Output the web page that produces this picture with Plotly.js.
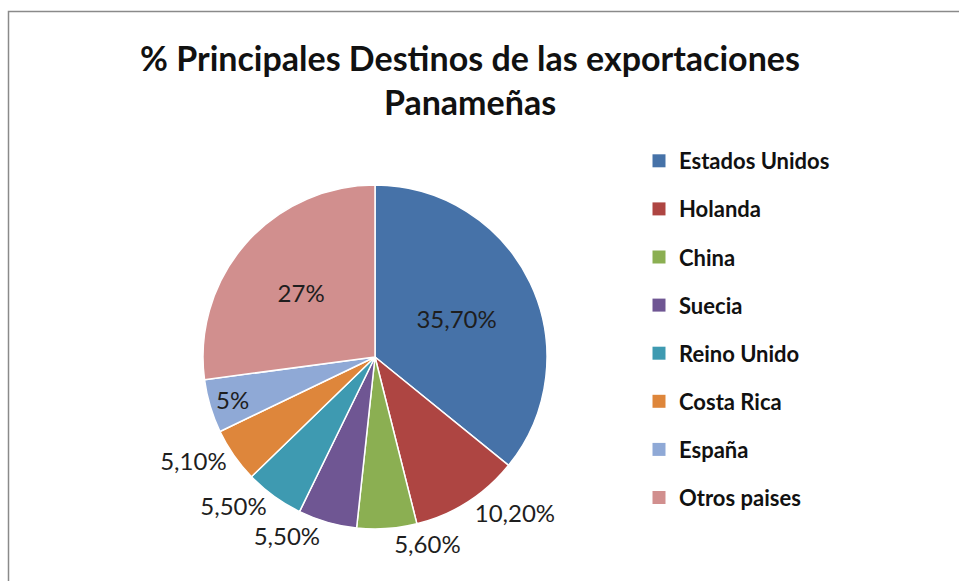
<!DOCTYPE html>
<html>
<head>
<meta charset="utf-8">
<script src="https://cdn.plot.ly/plotly-3.0.1.min.js"></script>
<style>
  html, body { margin: 0; padding: 0; background: #ffffff; }
  #chart { width: 959px; height: 581px; }
</style>
</head>
<body>
<div id="chart"></div>
<script>
// ---- data ----
const categories = ["Estados Unidos", "Holanda", "China", "Suecia", "Reino Unido", "Costa Rica", "España", "Otros paises"];
const shares = [35.7, 10.2, 5.6, 5.5, 5.5, 5.1, 5, 27];
const shareLabels = ["35,70%", "10,20%", "5,60%", "5,50%", "5,50%", "5,10%", "5%", "27%"];
const labelPlacement = ["inside", "outside", "outside", "outside", "outside", "outside", "inside", "inside"];
const sliceColors = ["#4672A8", "#AE4542", "#8BAF52", "#6F5693", "#3E9AB1", "#DE863B", "#8FA9D6", "#D18F8E"];

const W = 959, H = 581;
const fontFam = "Lato, 'Open Sans', sans-serif";

const pie = {
  type: "pie",
  labels: categories,
  values: shares,
  text: shareLabels,
  textinfo: "text",
  textposition: labelPlacement,
  insidetextorientation: "horizontal",
  sort: false,
  direction: "clockwise",
  rotation: 0,
  marker: { colors: sliceColors, line: { color: "#ffffff", width: 1.5 } },
  textfont: { family: fontFam, size: 24, color: "#1e1e1e" },
  outsidetextfont: { family: fontFam, size: 24, color: "#1e1e1e" },
  insidetextfont: { family: fontFam, size: 24, color: "#1e1e1e" },
  showlegend: false,
  hoverinfo: "label+text",
  domain: { x: [(375 - 172) / W, (375 + 172) / W], y: [(H - 529) / H, (H - 185) / H] }
};

// legend entries, one per category, so rows can be spaced like the original
const legendTraces = categories.map((c, i) => ({
  type: "scatter",
  mode: "markers",
  x: [null], y: [null],
  name: c,
  legendgroup: c,
  marker: { symbol: "square", size: 13, color: sliceColors[i] },
  hoverinfo: "skip"
}));

const layout = {
  width: W, height: H,
  margin: { l: 0, r: 0, t: 0, b: 0 },
  paper_bgcolor: "#ffffff",
  plot_bgcolor: "#ffffff",
  title: {
    text: "% Principales Destinos de las exportaciones<br>Panameñas",
    font: { family: fontFam, size: 34, color: "#111111", weight: "bold" },
    x: 470 / W, xanchor: "center",
    y: (H - 71) / H, yanchor: "top"
  },
  xaxis: { visible: false },
  yaxis: { visible: false },
  showlegend: true,
  legend: {
    x: (659 - 20) / W, xanchor: "left",
    y: (H - 140) / H, yanchor: "top",
    traceorder: "grouped",
    tracegroupgap: 16.5,
    font: { family: fontFam, size: 22, color: "#111111", weight: "bold" },
    bgcolor: "rgba(0,0,0,0)"
  },
  shapes: [{
    type: "rect", xref: "paper", yref: "paper",
    x0: 8.5 / W, x1: 1.05, y0: -0.05, y1: (H - 11.5) / H,
    line: { color: "#8a8a8a", width: 1.5 }, fillcolor: "rgba(0,0,0,0)"
  }]
};

Plotly.newPlot("chart", [pie].concat(legendTraces), layout, { displayModeBar: false, staticPlot: true });
</script>
</body>
</html>
